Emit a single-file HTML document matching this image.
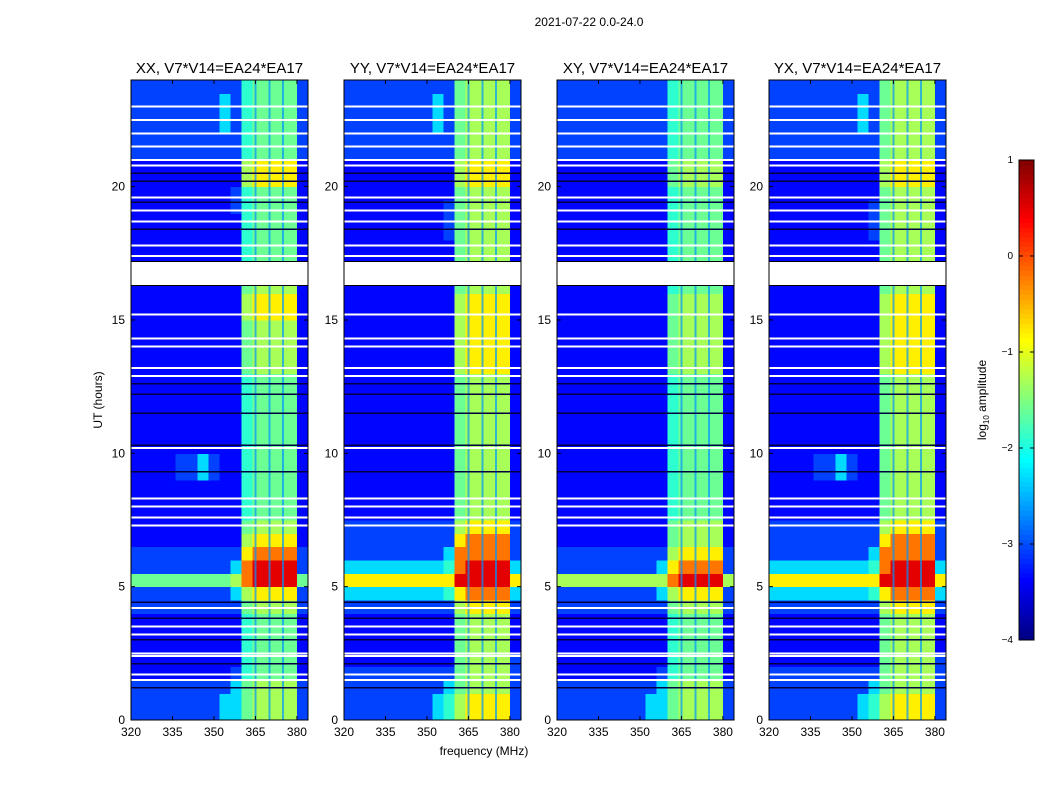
<!DOCTYPE html>
<html><head><meta charset="utf-8">
<style>
body{margin:0;background:#fff;font-family:"Liberation Sans",sans-serif;}
svg{display:block}
text{font-family:"Liberation Sans",sans-serif;}
</style></head>
<body>
<svg id="fig" width="1050" height="800" viewBox="0 0 1050 800">
<rect width="1050" height="800" fill="#fff"/>
<text x="589" y="26" font-size="12" text-anchor="middle">2021-07-22 0.0-24.0</text>
<text x="484" y="755" font-size="12" text-anchor="middle">frequency (MHz)</text>
<text transform="translate(102,400) rotate(-90)" font-size="12" text-anchor="middle">UT (hours)</text>
<g id="panels"></g>
<g id="cbar"></g>
</svg>
<script>
// ---- data ----
const polarizations = ["XX","YY","XY","YX"];
const baseline = "V7*V14=EA24*EA17";
const freqEdges = [320,324,328,332,336,340,344,348,352,356,360,364,368,372,376,380,384];
const timeStep = 0.5; // hours per row
const xTicks = [320,335,350,365,380];
const yTicks = [0,5,10,15,20];
const cbarTicks = [1,0,-1,-2,-3,-4];
const flaggedTimes = [1.5,1.7,2.4,2.5,3.2,3.5,4.2,7.3,7.6,8.0,8.3,10.2,12.9,13.2,14.0,14.3,15.2,17.4,17.8,18.7,19.1,19.6,20.8,21.0,21.5,22.0,22.5,23.0];
const darkTimes = [1.2,2.1,3.0,3.8,4.4,9.3,10.3,11.5,12.2,12.6,18.4,19.4,20.2,20.5];
const flaggedGap = [16.3,17.2];
const dividerFreqs = [365,370,375];
// digit d -> log10 amplitude
const levelValues = [-3.6,-3.35,-3.05,-2.3,-1.9,-1.6,-1.3,-0.8,-0.2,0.5];
const gridXX = ["2222222233566662","2222222233566662","2222222223566662","1111111112455551","1111111111455551","1111111111455551","1111111111455551","1111111111455551","2222222222566662","2222222223677772","5555555556899995","2222222223899992","2222222222788882","1111111111677771","1111111111566661","1111111111455551","1111111111455551","1111111111455551","1111223211455551","1111223211455551","1111111111455551","1111111111455551","1111111111455551","1111111111455551","1111111111455551","1111111111455551","1111111111566661","1111111111566661","1111111111566661","1111111111566661","1111111111677771","1111111111677771","1111111111566661","1111111111566661","1111111111455551","1111111111455551","1111111111455551","1111111111455551","1111111112455551","1111111112455551","1111111111677771","1111111111677771","2222222222455552","2222222222455552","2222222232455552","2222222232455552","2222222232455552","2222222222455552"];
const gridYY = ["2222222234677772","2222222234677772","2222222223566662","2222222222566662","1111111111566662","1111111111566661","1111111111566661","1111111111566661","2222222222677772","3333333334788883","7777777777999997","3333333334899993","2222222223888882","2222222222788882","2222222222677772","1111111111566661","1111111111566661","1111111111566661","1111111111566661","1111111111566661","1111111111566661","1111111111566661","1111111111566661","1111111111566661","1111111111566661","1111111111566661","1111111111677771","1111111111677771","1111111111677771","1111111111677771","1111111111677771","1111111111677771","1111111111566661","1111111111566661","1111111111566661","1111111111566661","1111111112566661","1111111112566661","1111111112566661","1111111111566661","1111111111677771","1111111111677771","2222222222566662","2222222222566662","2222222232566662","2222222232566662","2222222232566662","2222222222566662"];
const gridXY = ["2222222233566662","2222222233566662","2222222223566662","1111111112455551","1111111111455551","1111111111455551","1111111111455551","1111111111455551","2222222222566662","2222222223677772","6666666666899996","2222222223788882","2222222222677772","1111111111566661","1111111111566661","1111111111455551","1111111111455551","1111111111455551","1111111111455551","1111111111455551","1111111111455551","1111111111455551","1111111111455551","1111111111455551","1111111111455551","1111111111455551","1111111111566661","1111111111566661","1111111111566661","1111111111566661","1111111111566661","1111111111566661","1111111111455551","1111111111455551","1111111111455551","1111111111455551","1111111111455551","1111111111455551","1111111111455551","1111111111455551","1111111111566661","1111111111566661","2222222222455552","2222222222455552","2222222222455552","2222222222455552","2222222222455552","2222222222455552"];
const gridYX = ["2222222234677772","2222222234677772","2222222223566662","2222222222566662","1111111111566662","1111111111566661","1111111111566661","1111111111566661","2222222222677772","3333333334788883","7777777777999997","3333333334899993","2222222223888882","2222222222788882","2222222222677772","1111111111566661","1111111111566661","1111111111566661","1111223211566661","1111223211566661","1111111111566661","1111111111566661","1111111111566661","1111111111566661","1111111111566661","1111111111566661","1111111111677771","1111111111677771","1111111111677771","1111111111677771","1111111111677771","1111111111677771","1111111111566661","1111111111566661","1111111111566661","1111111111566661","1111111112566661","1111111112566661","1111111112566661","1111111111566661","1111111111677771","1111111111677771","2222222222566662","2222222222566662","2222222232566662","2222222232566662","2222222232566662","2222222222566662"];
const grids = [gridXX, gridYY, gridXY, gridYX];

// ---- layout ----
const NS = "http://www.w3.org/2000/svg";
const panelLefts = [131,344,557,769];
const PW = 177, PT = 80, PB = 720;
const fMin = 320, fMax = 384, tMin = 0, tMax = 24;
function jet(t){
  t=Math.max(0,Math.min(1,t));
  const c=v=>Math.round(255*Math.max(0,Math.min(1,v)));
  return `rgb(${c(1.5-Math.abs(4*t-3))},${c(1.5-Math.abs(4*t-2))},${c(1.5-Math.abs(4*t-1))})`;
}
function valToColor(v){return jet((v+4)/5);}
function mk(tag, attrs, parent){
  const e=document.createElementNS(NS,tag);
  for(const k in attrs) e.setAttribute(k,attrs[k]);
  parent.appendChild(e); return e;
}
const panelsG=document.getElementById('panels');
polarizations.forEach((pol,pi)=>{
  const L=panelLefts[pi];
  const xs=f=>L+(f-fMin)/(fMax-fMin)*PW;
  const ys=h=>PB-(h-tMin)/(tMax-tMin)*(PB-PT);
  const g=mk('g',{},panelsG);
  
  
  const grid=grids[pi];
  const hm=mk('g',{'shape-rendering':'crispEdges'},g);
  
  
  grid.forEach((row,ri)=>{
    for(let ci=0;ci<row.length;ci++){
      const v=levelValues[parseInt(row[ci])];
      const x0=xs(freqEdges[ci]), x1=xs(freqEdges[ci+1]);
      const y0=ys((ri+1)*timeStep), y1=ys(ri*timeStep);
      const r=mk('rect',{x:x0,y:y0,width:x1-x0+0.5,height:y1-y0+0.5,fill:valToColor(v)},hm);
      
      
    }
  });
  dividerFreqs.forEach(f=>{
    const l=mk('rect',{x:xs(f)-1,y:PT,width:2,height:PB-PT,fill:'rgb(0,150,255)',opacity:0.7},hm);
    
    
  });
  darkTimes.forEach(h=>{
    const l=mk('rect',{x:L,y:ys(h)-1,width:PW,height:1.5,fill:'#000040'},hm);
    
    
  });
  flaggedTimes.forEach(h=>{
    const l=mk('rect',{x:L,y:ys(h)-1,width:PW,height:2,fill:'#fff'},hm);
    
    
  });
  const gap=mk('rect',{x:L,y:ys(flaggedGap[1]),width:PW,height:ys(flaggedGap[0])-ys(flaggedGap[1]),fill:'#fff'},hm);
  
  
  [ys(flaggedGap[1]),ys(flaggedGap[0])].forEach(y=>mk('line',{x1:L,x2:L+PW,y1:y,y2:y,stroke:'#000','stroke-width':1},hm));
  const fr=mk('rect',{x:L,y:PT,width:PW,height:PB-PT,fill:'none',stroke:'#000','stroke-width':1},g);
  
  
  const t=mk('text',{x:L+PW/2,y:73,'font-size':15,'text-anchor':'middle'},g);
  t.textContent=pol+', '+baseline;
  
  
  xTicks.forEach(f=>{
    const x=xs(f);
    mk('line',{x1:x,x2:x,y1:PB,y2:PB-4,stroke:'#000'},g);
    mk('line',{x1:x,x2:x,y1:PT,y2:PT+4,stroke:'#000'},g);
    const tl=mk('text',{x:x,y:PB+16,'font-size':12,'text-anchor':'middle'},g);
    tl.textContent=f;
    
    
  });
  yTicks.forEach(h=>{
    const y=ys(h);
    mk('line',{x1:L,x2:L+4,y1:y,y2:y,stroke:'#000'},g);
    mk('line',{x1:L+PW,x2:L+PW-4,y1:y,y2:y,stroke:'#000'},g);
    const tl=mk('text',{x:L-6,y:y+4,'font-size':12,'text-anchor':'end'},g);
    tl.textContent=h;
    
    
  });
});
const cb=document.getElementById('cbar');


const CX=1019, CW=15, CT=160, CB=640;
const cy=v=>CB-(v+4)/5*(CB-CT);
for(let i=0;i<100;i++){
  const v0=-4+i*0.05;
  mk('rect',{x:CX,y:cy(v0+0.05),width:CW,height:(CB-CT)/100+0.6,fill:valToColor(v0+0.025),'shape-rendering':'crispEdges'},cb);
}
mk('rect',{x:CX,y:CT,width:CW,height:CB-CT,fill:'none',stroke:'#000'},cb);
cbarTicks.forEach(v=>{
  const y=cy(v);
  mk('line',{x1:CX,x2:CX+4,y1:y,y2:y,stroke:'#000'},cb);
  mk('line',{x1:CX+CW,x2:CX+CW-4,y1:y,y2:y,stroke:'#000'},cb);
  const tl=mk('text',{x:CX-6,y:y+3,'font-size':10,'text-anchor':'end'},cb);
  tl.textContent=v<0?'\u2212'+Math.abs(v):String(v);
  
  
});
const cl=mk('text',{transform:'translate(986,400) rotate(-90)','font-size':12,'text-anchor':'middle'},cb);
cl.innerHTML='log<tspan font-size="8" dy="3">10</tspan><tspan dy="-3"> amplitude</tspan>';


</script>
</body></html>
